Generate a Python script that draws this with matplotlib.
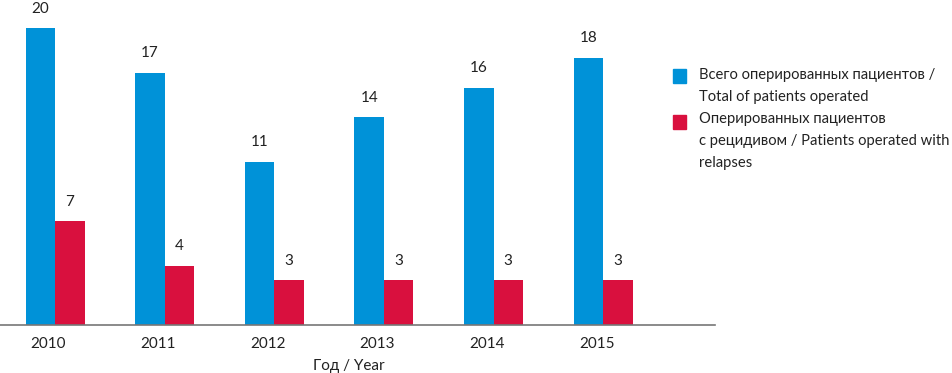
import numpy as np
import matplotlib.pyplot as plt

plt.rcParams['font.family'] = ['Lato', 'DejaVu Sans']

years = ['2010', '2011', '2012', '2013', '2014', '2015']
total = [20, 17, 11, 14, 16, 18]
relapses = [7, 4, 3, 3, 3, 3]

blue = '#0092d8'
red = '#d9103e'

fig = plt.figure(figsize=(9.52, 3.73), dpi=100)
ax = fig.add_axes([0, 1 - 325 / 373, 715 / 952, 325 / 373])

x = np.arange(len(years))
w = 0.269
b1 = ax.bar(x - w / 2, total, w, color=blue)
b2 = ax.bar(x + w / 2, relapses, w, color=red)

for bars in (b1, b2):
    for r in bars:
        ax.annotate(str(int(r.get_height())),
                    (r.get_x() + r.get_width() / 2, r.get_height()),
                    xytext=(0, 9), textcoords='offset points',
                    ha='center', va='bottom', fontsize=11, color='#222222')

ax.set_xlim(-0.502, 6.02)
ax.set_ylim(0, 21.9)
ax.set_xticks(x - 0.06)
ax.set_xticklabels(years, fontsize=11, color='#222222')
ax.tick_params(axis='x', length=0, pad=9)
ax.set_yticks([])
for s in ('left', 'right', 'top'):
    ax.spines[s].set_visible(False)
ax.spines['bottom'].set_color('#777777')
ax.spines['bottom'].set_linewidth(1.2)

fig.text(349 / 952, 1 - 366 / 373, 'Год / Year', ha='center', va='center',
         fontsize=11, color='#222222')

# legend drawn by hand
fig.patches.append(plt.Rectangle((673 / 952, 1 - 83 / 373), 13 / 952, 14 / 373,
                                 transform=fig.transFigure, color=blue))
fig.patches.append(plt.Rectangle((673 / 952, 1 - 129 / 373), 13 / 952, 14 / 373,
                                 transform=fig.transFigure, color=red))
legend_lines = [
    (75, 'Всего оперированных пациентов /'),
    (97, 'Total of patients operated'),
    (119, 'Оперированных пациентов'),
    (141, 'с рецидивом / Patients operated with'),
    (163, 'relapses'),
]
for y, t in legend_lines:
    fig.text(699 / 952, 1 - y / 373, t, ha='left', va='center',
             fontsize=10.6, color='#222222')

fig.savefig('out.png', dpi=100)
